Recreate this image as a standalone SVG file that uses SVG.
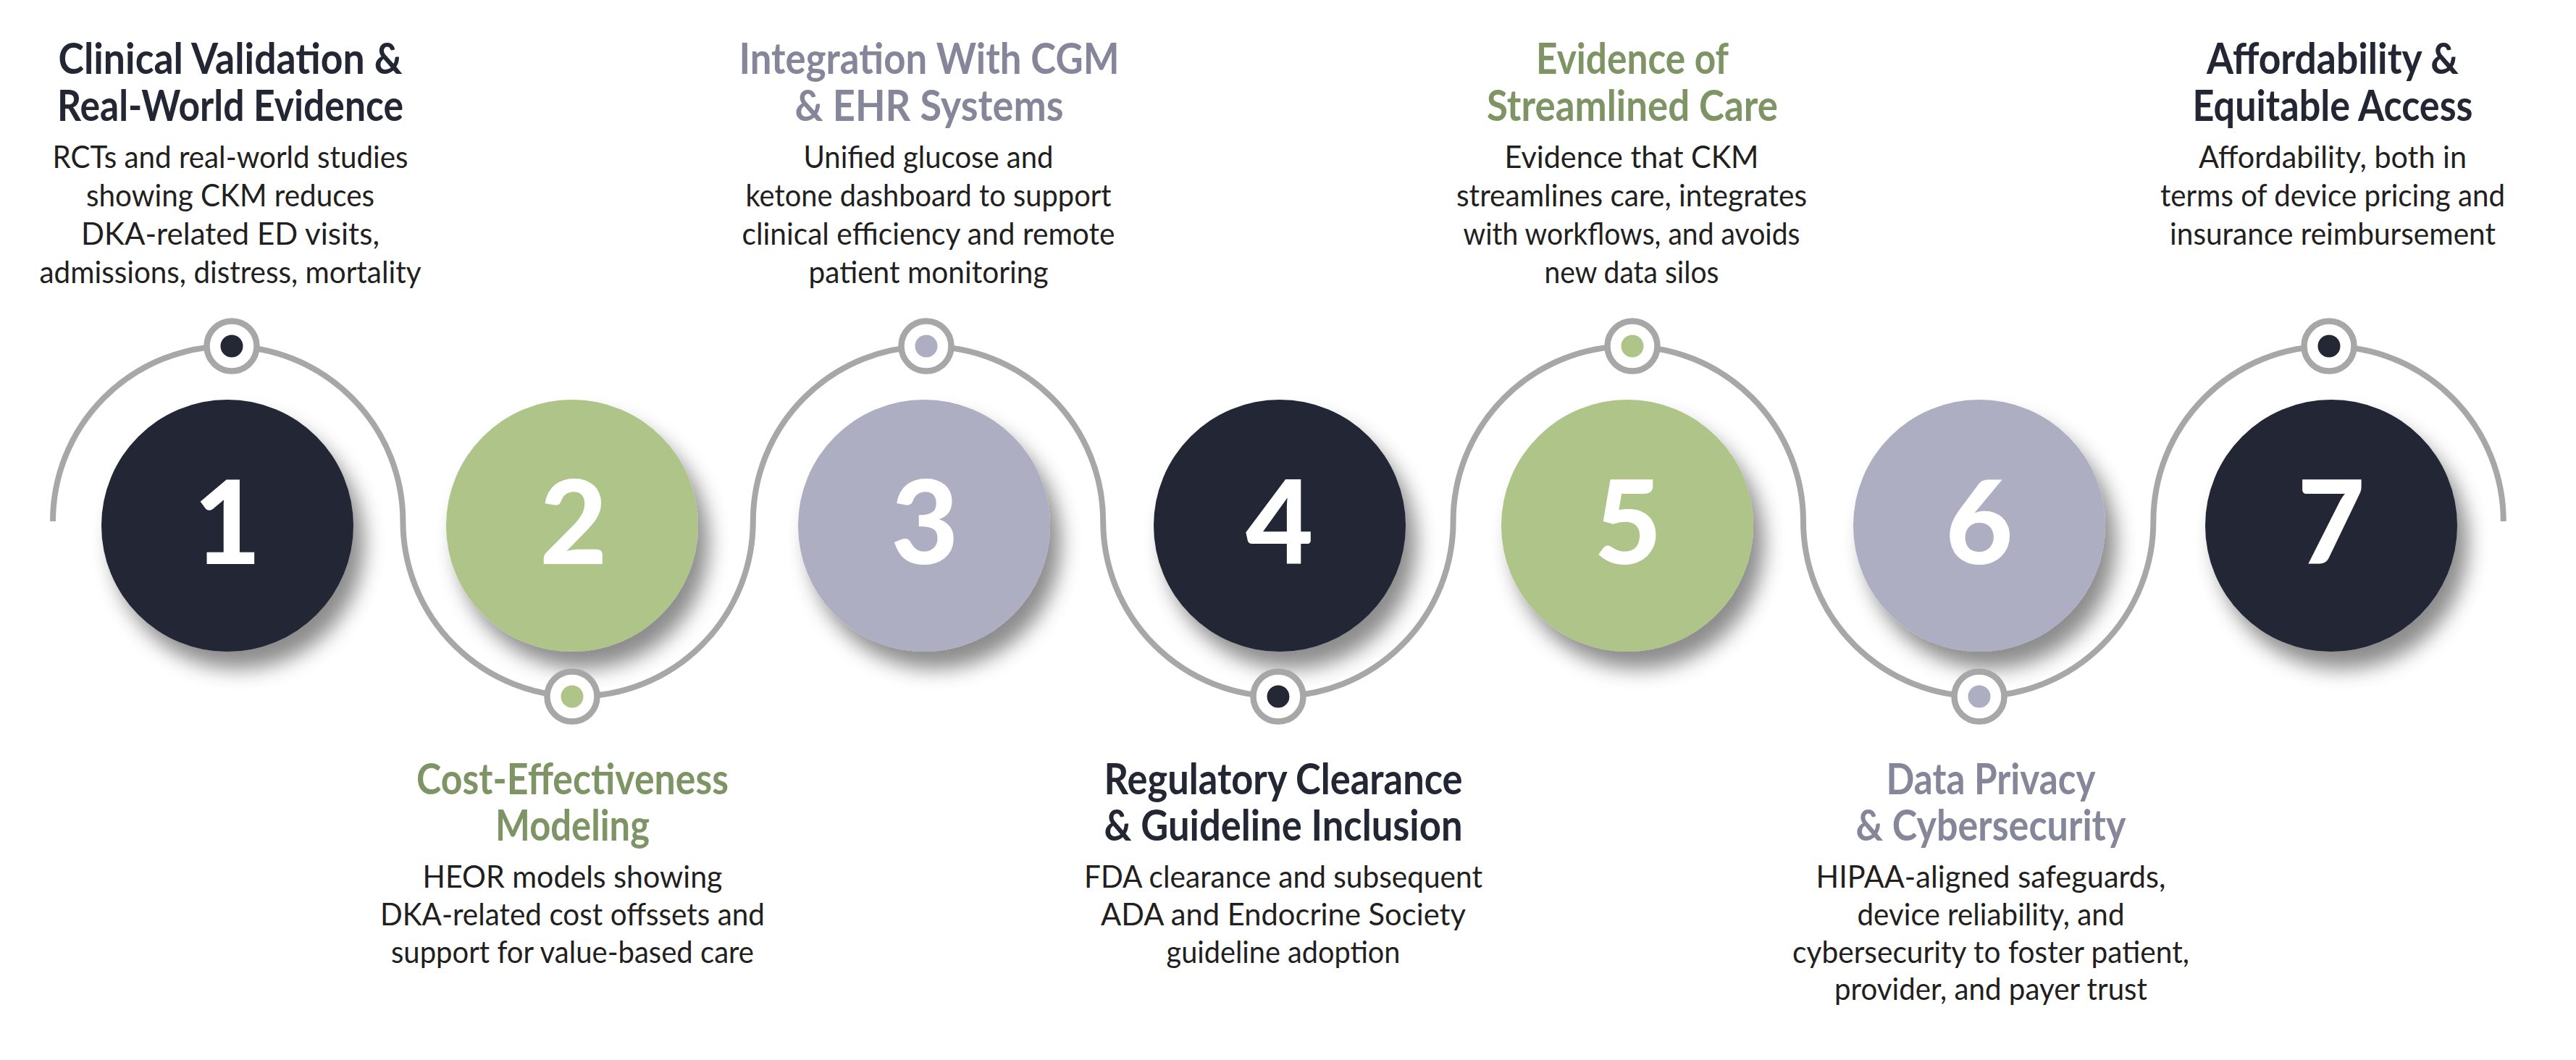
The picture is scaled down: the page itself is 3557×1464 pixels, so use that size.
<svg xmlns="http://www.w3.org/2000/svg" width="3557" height="1464" viewBox="0 0 3557 1464">
<defs>
<filter id="sh" x="-30%" y="-30%" width="170%" height="170%">
<feDropShadow dx="15" dy="24" stdDeviation="14" flood-color="#000" flood-opacity="0.45"/>
</filter>
<style>
.bg{fill:#ffffff}
.wave{fill:none;stroke:#a7a7a7;stroke-width:8}
.ring{fill:#ffffff;stroke:#a7a7a7;stroke-width:8.5}
.dk{fill:#232834}
.gr{fill:#aec488}
.lv{fill:#adaec2}
.num{font-family:Lato,"Liberation Sans",sans-serif;font-weight:900;font-size:161px;fill:#ffffff;text-anchor:middle}
.t{font-family:Lato,"Liberation Sans",sans-serif;font-weight:700;font-size:59px;text-anchor:middle}
.b{font-family:Lato,"Liberation Sans",sans-serif;font-weight:400;font-size:43px;fill:#231f20;text-anchor:middle}
.tdk{fill:#232733}
.tgr{fill:#7f9465}
.tlv{fill:#85869a}
</style>
</defs>
<rect class="bg" x="0" y="0" width="3557" height="1464"/>

<g id="connectors">
<path class="wave" d="M73 720 A241.7 241.7 0 0 1 556.4 720 A241.7 241.7 0 0 0 1039.8 720 A241.7 241.7 0 0 1 1523.2 720 A241.7 241.7 0 0 0 2006.6 720 A241.7 241.7 0 0 1 2490 720 A241.7 241.7 0 0 0 2973.4 720 A241.7 241.7 0 0 1 3456.8 720"/>
</g>

<g id="step-1">
<circle class="dk" cx="314" cy="726" r="174" filter="url(#sh)"/>
<text class="num" x="314" y="779">1</text>
<circle class="ring" cx="320" cy="478" r="34.5"/>
<circle class="dk" cx="320" cy="478" r="15.5"/>
<text class="t tdk" x="318" y="102" textLength="475" lengthAdjust="spacingAndGlyphs">Clinical Validation &amp;</text>
<text class="t tdk" x="318" y="167" textLength="478" lengthAdjust="spacingAndGlyphs">Real-World Evidence</text>
<text class="b" x="318" y="232" textLength="491" lengthAdjust="spacingAndGlyphs">RCTs and real-world studies</text>
<text class="b" x="318" y="285" textLength="398" lengthAdjust="spacingAndGlyphs">showing CKM reduces</text>
<text class="b" x="318" y="338" textLength="412" lengthAdjust="spacingAndGlyphs">DKA-related ED visits,</text>
<text class="b" x="318" y="391" textLength="527" lengthAdjust="spacingAndGlyphs">admissions, distress, mortality</text>
</g>

<g id="step-2">
<circle class="gr" cx="790" cy="726" r="174" filter="url(#sh)"/>
<text class="num" x="792" y="779">2</text>
<circle class="ring" cx="790" cy="962" r="34.5"/>
<circle class="gr" cx="790" cy="962" r="15.5"/>
<text class="t tgr" x="790.5" y="1097" textLength="431" lengthAdjust="spacingAndGlyphs">Cost-Effectiveness</text>
<text class="t tgr" x="790.5" y="1161" textLength="213" lengthAdjust="spacingAndGlyphs">Modeling</text>
<text class="b" x="790.5" y="1226" textLength="414" lengthAdjust="spacingAndGlyphs">HEOR models showing</text>
<text class="b" x="790.5" y="1278" textLength="531" lengthAdjust="spacingAndGlyphs">DKA-related cost offssets and</text>
<text class="b" x="790.5" y="1330" textLength="501" lengthAdjust="spacingAndGlyphs">support for value-based care</text>
</g>

<g id="step-3">
<circle class="lv" cx="1276" cy="726" r="174" filter="url(#sh)"/>
<text class="num" x="1277" y="779">3</text>
<circle class="ring" cx="1279" cy="478" r="34.5"/>
<circle class="lv" cx="1279" cy="478" r="15.5"/>
<text class="t tlv" x="1283" y="102" textLength="525" lengthAdjust="spacingAndGlyphs">Integration With CGM</text>
<text class="t tlv" x="1283" y="167" textLength="371" lengthAdjust="spacingAndGlyphs">&amp; EHR Systems</text>
<text class="b" x="1282" y="232" textLength="345" lengthAdjust="spacingAndGlyphs">Unified glucose and</text>
<text class="b" x="1282" y="285" textLength="505" lengthAdjust="spacingAndGlyphs">ketone dashboard to support</text>
<text class="b" x="1282" y="338" textLength="515" lengthAdjust="spacingAndGlyphs">clinical efficiency and remote</text>
<text class="b" x="1282" y="391" textLength="331" lengthAdjust="spacingAndGlyphs">patient monitoring</text>
</g>

<g id="step-4">
<circle class="dk" cx="1767" cy="726" r="174" filter="url(#sh)"/>
<text class="num" x="1767" y="779">4</text>
<circle class="ring" cx="1765" cy="962" r="34.5"/>
<circle class="dk" cx="1765" cy="962" r="15.5"/>
<text class="t tdk" x="1772" y="1097" textLength="495" lengthAdjust="spacingAndGlyphs">Regulatory Clearance</text>
<text class="t tdk" x="1772" y="1161" textLength="495" lengthAdjust="spacingAndGlyphs">&amp; Guideline Inclusion</text>
<text class="b" x="1772" y="1226" textLength="550" lengthAdjust="spacingAndGlyphs">FDA clearance and subsequent</text>
<text class="b" x="1772" y="1278" textLength="504" lengthAdjust="spacingAndGlyphs">ADA and Endocrine Society</text>
<text class="b" x="1772" y="1330" textLength="323" lengthAdjust="spacingAndGlyphs">guideline adoption</text>
</g>

<g id="step-5">
<circle class="gr" cx="2247" cy="726" r="174" filter="url(#sh)"/>
<text class="num" x="2248" y="779">5</text>
<circle class="ring" cx="2254" cy="478" r="34.5"/>
<circle class="gr" cx="2254" cy="478" r="15.5"/>
<text class="t tgr" x="2254" y="102" textLength="266" lengthAdjust="spacingAndGlyphs">Evidence of</text>
<text class="t tgr" x="2254" y="167" textLength="402" lengthAdjust="spacingAndGlyphs">Streamlined Care</text>
<text class="b" x="2253" y="232" textLength="351" lengthAdjust="spacingAndGlyphs">Evidence that CKM</text>
<text class="b" x="2253" y="285" textLength="484" lengthAdjust="spacingAndGlyphs">streamlines care, integrates</text>
<text class="b" x="2253" y="338" textLength="465" lengthAdjust="spacingAndGlyphs">with workflows, and avoids</text>
<text class="b" x="2253" y="391" textLength="241" lengthAdjust="spacingAndGlyphs">new data silos</text>
</g>

<g id="step-6">
<circle class="lv" cx="2733" cy="726" r="174" filter="url(#sh)"/>
<text class="num" x="2733" y="779">6</text>
<circle class="ring" cx="2733" cy="962" r="34.5"/>
<circle class="lv" cx="2733" cy="962" r="15.5"/>
<text class="t tlv" x="2749" y="1097" textLength="289" lengthAdjust="spacingAndGlyphs">Data Privacy</text>
<text class="t tlv" x="2749" y="1161" textLength="373" lengthAdjust="spacingAndGlyphs">&amp; Cybersecurity</text>
<text class="b" x="2749" y="1226" textLength="483" lengthAdjust="spacingAndGlyphs">HIPAA-aligned safeguards,</text>
<text class="b" x="2749" y="1278" textLength="369" lengthAdjust="spacingAndGlyphs">device reliability, and</text>
<text class="b" x="2749" y="1330" textLength="548" lengthAdjust="spacingAndGlyphs">cybersecurity to foster patient,</text>
<text class="b" x="2749" y="1381" textLength="432" lengthAdjust="spacingAndGlyphs">provider, and payer trust</text>
</g>

<g id="step-7">
<circle class="dk" cx="3219" cy="726" r="174" filter="url(#sh)"/>
<text class="num" x="3219" y="779">7</text>
<circle class="ring" cx="3216" cy="478" r="34.5"/>
<circle class="dk" cx="3216" cy="478" r="15.5"/>
<text class="t tdk" x="3221" y="102" textLength="348" lengthAdjust="spacingAndGlyphs">Affordability &amp;</text>
<text class="t tdk" x="3221" y="167" textLength="387" lengthAdjust="spacingAndGlyphs">Equitable Access</text>
<text class="b" x="3221" y="232" textLength="370" lengthAdjust="spacingAndGlyphs">Affordability, both in</text>
<text class="b" x="3221" y="285" textLength="476" lengthAdjust="spacingAndGlyphs">terms of device pricing and</text>
<text class="b" x="3221" y="338" textLength="450" lengthAdjust="spacingAndGlyphs">insurance reimbursement</text>
</g>
</svg>
